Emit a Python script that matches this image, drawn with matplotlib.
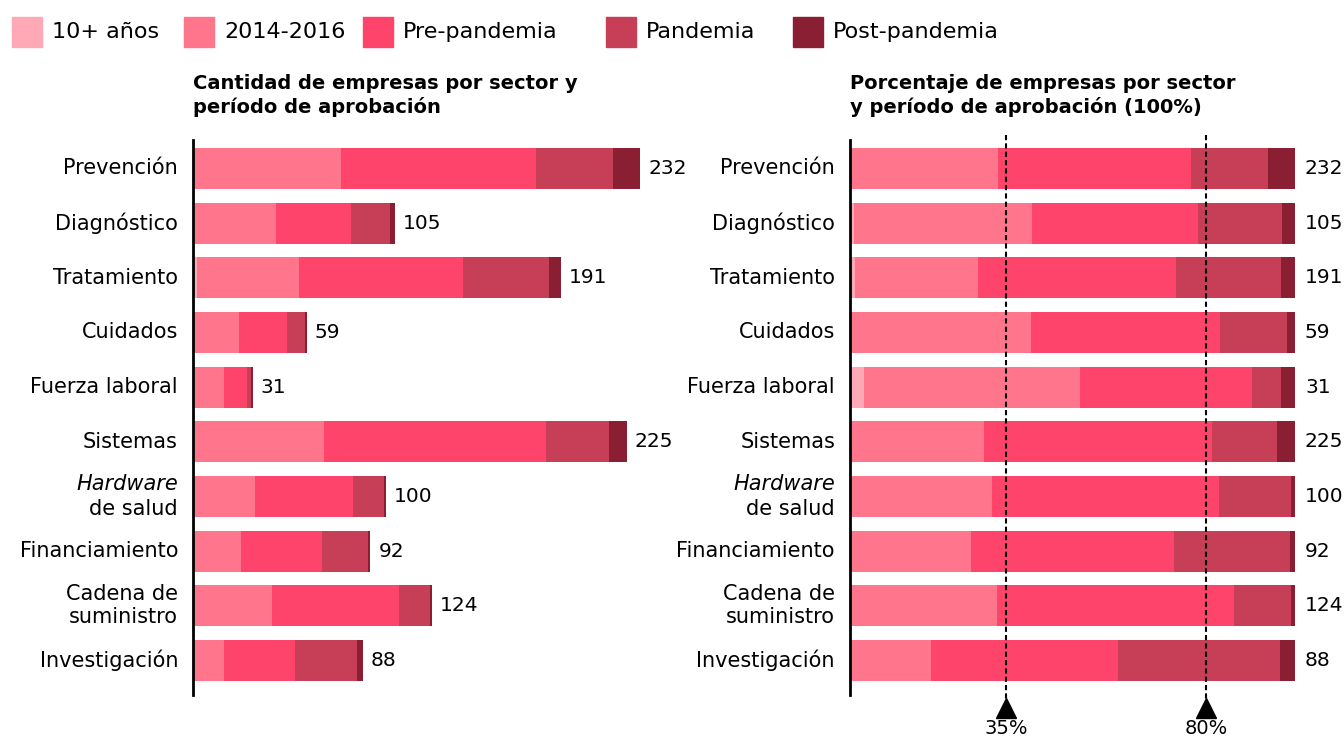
import numpy as np
import matplotlib
matplotlib.use("Agg")
import matplotlib.pyplot as plt
from matplotlib.patches import Rectangle

# data: companies by sector and approval period
sectors = ["Prevención", "Diagnóstico", "Tratamiento", "Cuidados", "Fuerza laboral",
           "Sistemas", "Hardware de salud", "Financiamiento", "Cadena de\nsuministro", "Investigación"]
periods = ["10+ años", "2014-2016", "Pre-pandemia", "Pandemia", "Post-pandemia"]
colors = ["#ffa9b7", "#ff758b", "#ff446b", "#c63f56", "#8a1f33"]

diez_mas = [0, 1, 2, 0, 1, 1, 0, 0, 0, 0]
p2014_2016 = [77, 42, 53, 24, 15, 67, 32, 25, 41, 16]
pre_pandemia = [101, 39, 85, 25, 12, 115, 51, 42, 66, 37]
pandemia = [40, 20, 45, 9, 2, 33, 16, 24, 16, 32]
post_pandemia = [14, 3, 6, 1, 1, 9, 1, 1, 1, 3]

marks = [35, 80]

counts = np.array([diez_mas, p2014_2016, pre_pandemia, pandemia, post_pandemia], dtype=float)
totals = counts.sum(axis=0)
pct = counts / totals * 100

plt.rcParams['font.family'] = ['DejaVu Sans']

W, H = 1344, 740
fig = plt.figure(figsize=(W / 100, H / 100), dpi=100)


def box(x0, x1, y0, y1):
    return [x0 / W, 1 - y1 / H, (x1 - x0) / W, (y1 - y0) / H]


axL = fig.add_axes(box(193, 640, 140, 695))
axR = fig.add_axes(box(850, 1295, 140, 695))

y = np.arange(len(sectors))
fs = 15


def draw(ax, data, xmax, label_off):
    left = np.zeros(len(sectors))
    for k in range(len(periods)):
        ax.barh(y, data[k], left=left, height=0.75, color=colors[k], linewidth=0)
        left += data[k]
    ax.set_xlim(0, xmax)
    ax.set_ylim(9.63, -0.52)
    for s in ["top", "right", "bottom"]:
        ax.spines[s].set_visible(False)
    ax.spines["left"].set_linewidth(2)
    ax.set_xticks([])
    ax.set_yticks([])
    for i, name in enumerate(sectors):
        end = left[i]
        ax.annotate(str(int(totals[i])), xy=(end, i), xytext=(label_off, 0),
                    textcoords="offset pixels", va="center", ha="left", fontsize=14.5)
        if name == "Hardware de salud":
            ax.annotate("Hardware", xy=(0, i - 0.23), xycoords=("axes fraction", "data"),
                        xytext=(-15, 0), textcoords="offset pixels", ha="right", va="center",
                        fontsize=fs, style="italic")
            ax.annotate("de salud", xy=(0, i + 0.23), xycoords=("axes fraction", "data"),
                        xytext=(-15, 0), textcoords="offset pixels", ha="right", va="center",
                        fontsize=fs)
        else:
            ax.annotate(name, xy=(0, i), xycoords=("axes fraction", "data"),
                        xytext=(-15, 0), textcoords="offset pixels", ha="right", va="center",
                        fontsize=fs, multialignment="right", linespacing=1.2)


draw(axL, counts, 232, 8)
draw(axR, pct, 100, 10)

# reference lines on the percentage panel
for m in marks:
    axR.plot([m, m], [-0.62, 9.78], color="black", lw=1.5, dashes=(2.5, 1.5), clip_on=False)
    axR.plot([m], [9.86], marker="^", color="black", markersize=15, clip_on=False)
    axR.text(m, 10.25, f"{m}%", ha="center", va="center", fontsize=14, clip_on=False)

# titles
fig.text(193 / W, 1 - 74 / H, "Cantidad de empresas por sector y\nperíodo de aprobación",
         fontsize=14, fontweight="bold", va="top", ha="left", linespacing=1.25)
fig.text(850 / W, 1 - 74 / H, "Porcentaje de empresas por sector\ny período de aprobación (100%)",
         fontsize=14, fontweight="bold", va="top", ha="left", linespacing=1.25)

# legend
leg_x = [12, 184, 363, 606, 793]
for x0, c, lab in zip(leg_x, colors, periods):
    fig.patches.append(Rectangle((x0 / W, 1 - 47 / H), 30 / W, 30 / H, color=c,
                                 transform=fig.transFigure, figure=fig))
    fig.text((x0 + 40) / W, 1 - 32 / H, lab, fontsize=16, va="center", ha="left")

fig.savefig("out.png", dpi=100)
